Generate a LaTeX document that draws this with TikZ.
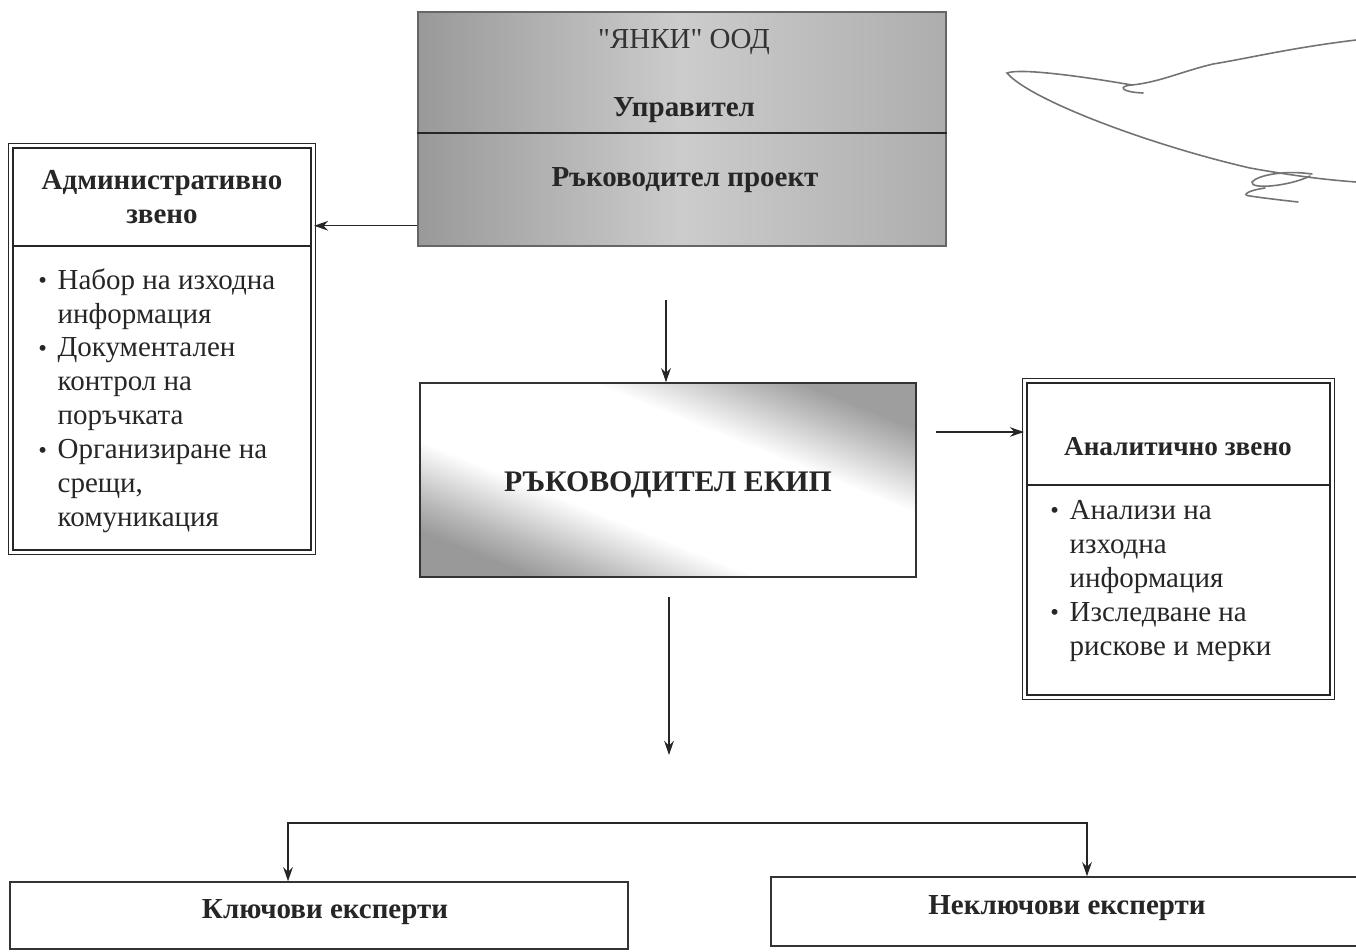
\documentclass[tikz,border=0pt]{standalone}
\usepackage{fontspec}
\setmainfont{Liberation Serif}
\usetikzlibrary{arrows.meta,calc}
\pgfdeclareverticalshading{teamshade}{100bp}{color(0bp)=(black!40); color(25bp)=(black!40); color(30bp)=(black!28); color(40bp)=(white); color(61bp)=(white); color(70bp)=(black!25); color(75bp)=(black!38); color(100bp)=(black!38)}
\tikzset{
  arr/.style={draw=black!85, line width=0.8pt, -{Stealth[length=8pt,width=5.5pt]}},
  dbox/.style={draw=black!85, line width=0.7pt, double=white, double distance=2pt, rectangle, inner sep=0pt},
  sbox/.style={draw=black!80, line width=0.9pt, rectangle, inner sep=0pt},
  divider/.style={draw=black!85, line width=0.9pt},
  ttl/.style={font=\fontsize{16.5}{19.5}\selectfont\bfseries, align=center, inner sep=0pt},
  body/.style={font=\fontsize{16.5}{19.3}\selectfont, align=left, inner sep=0pt, text=black!85},
  sig/.style={draw=black!55, line width=0.9pt, line cap=round}
}
\newcommand{\bul}{\makebox[11pt][l]{\raisebox{0.3pt}{\fontsize{14}{14}\selectfont\textbullet}}}
\newcommand{\ind}{\hspace*{11pt}}
\begin{document}
\begin{tikzpicture}[x=0.02cm, y=-0.02cm]
\useasboundingbox (0,0) rectangle (1356,951);
\clip (0,0) rectangle (1356,951);

% ---- top box
\node[sbox, minimum width=10.56cm, minimum height=4.68cm,
      left color=black!40, right color=black!32, middle color=black!20, draw=black!60] (top) at (682,129) {};
\draw[divider] (top.west |- 0,133) -- (top.east |- 0,133);
\node[font=\fontsize{16.5}{19}\selectfont, text=black!80, inner sep=0pt] (yanki) at (684,42) {\textquotedbl ЯНКИ\textquotedbl{} ООД};
\node[ttl, text=black!85] (upr) at (684,110) {Управител};
\node[ttl, text=black!85] (rp) at (685,180) {Ръководител проект};

% ---- admin box
\node[dbox, minimum width=6.06cm, minimum height=8.14cm] (admin) at (162,349) {};
\draw[divider] ([xshift=1pt]admin.west |- 0,246) -- ([xshift=-1pt]admin.east |- 0,246);
\node[ttl, text=black!85] (admint) at (162,197) {Административно\\звено};
\node[body, anchor=north west] (adminb) at (38,268) {%
\bul Набор на изходна\\\ind информация\\
\bul Документален\\\ind контрол на\\\ind поръчката\\
\bul Организиране на\\\ind срещи,\\\ind комуникация};

% ---- team leader box
\node[sbox, minimum width=9.92cm, minimum height=3.88cm,
      shading=teamshade, shading angle=-22] (team) at (668,480) {};
\node[font=\fontsize{17}{20}\selectfont\bfseries, text=black!85, inner sep=0pt] (teamt) at (668,485) {РЪКОВОДИТЕЛ ЕКИП};

% ---- analytic box
\node[dbox, minimum width=6.16cm, minimum height=6.34cm] (ana) at (1178.5,539) {};
\draw[divider] ([xshift=1pt]ana.west |- 0,485) -- ([xshift=-1pt]ana.east |- 0,485);
\node[ttl, font=\fontsize{15.5}{19}\selectfont\bfseries, text=black!85] (anat) at (1178,447) {Аналитично звено};
\node[body, anchor=north west] (anab) at (1050,500) {%
\bul Анализи на\\\ind изходна\\\ind информация\\
\bul Изследване на\\\ind рискове и мерки};

% ---- experts
\node[sbox, minimum width=12.36cm, minimum height=1.34cm] (keys) at (319,915.5) {};
\node[ttl, text=black!85] (keyst) at (325,912) {Ключови експерти};
\node[sbox, minimum width=11.84cm, minimum height=1.38cm] (nonkeys) at (1067,911.5) {};
\node[ttl, text=black!85] (nonkeyst) at (1067,908) {Неключови експерти};

% ---- connectors
\draw[arr] ([yshift=0.42cm]top.south west) -- ([yshift=0.42cm]top.south west -| admin.east);
\coordinate (a2) at (666,300);
\draw[arr] (a2) -- (a2 |- team.north);
\coordinate (a3) at (936,432);
\draw[arr] (a3) -- (a3 -| ana.west);
\coordinate (a4) at (669,597);
\coordinate (a5) at (669,755);
\draw[arr] (a4) -- (a5);
\coordinate (bm) at (688,823);
\draw[arr] (bm) -| ([xshift=-0.62cm]keys.north);
\draw[arr] (bm) -| ([xshift=0.4cm]nonkeys.north);

% ---- signature
\draw[sig] (1356,40) .. controls (1290,48) and (1250,58) .. (1213,64) .. controls (1180,72) and (1160,82) .. (1132,85)
  .. controls (1118,86) and (1120,92) .. (1143,93);
\draw[sig] (1132,85) .. controls (1080,76) and (1020,68) .. (1007,73)
  .. controls (1030,100) and (1150,145) .. (1250,168) .. controls (1300,177) and (1330,180) .. (1356,182);
\draw[sig] (1312,174) .. controls (1285,170) and (1258,175) .. (1252,182) .. controls (1250,190) and (1290,186) .. (1310,176);
\draw[sig] (1265,188) .. controls (1250,190) and (1240,195) .. (1250,196) .. controls (1270,199) and (1290,201) .. (1298,202);
\end{tikzpicture}
\end{document}
